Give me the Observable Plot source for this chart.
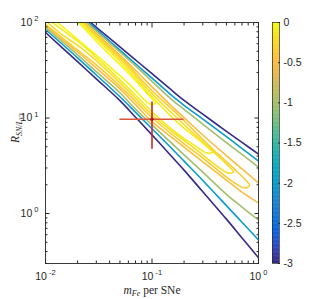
<!DOCTYPE html>
<html><head><meta charset="utf-8">
<script src="https://cdn.jsdelivr.net/npm/d3@7"></script>
<script src="https://cdn.jsdelivr.net/npm/@observablehq/plot@0.6"></script>
<style>
html,body{margin:0;padding:0;background:#fff;}
#wrap{position:relative;width:311px;height:299px;overflow:hidden;background:#fff;}
#wrap svg{position:absolute;top:0;}
</style></head><body><div id="wrap"></div>
<script>
// ---- data ----
const gridM = [0.01,0.02,0.03,0.05,0.07,0.1,0.15,0.2,0.3,0.5,0.7,1];
const loR3  = [78.6,38.9,25.7,15.2,10.2,6.66,4.06,2.85,1.69,0.874,0.556,0.344];
const loR2  = [84.5,42.7,28.2,16.7,11.5,7.73,4.92,3.54,2.22,1.21,0.811,0.530];
const loR1  = [88.7,45.8,30.6,18.4,12.4,8.47,5.55,4.12,2.71,1.59,1.17,0.857];
const loR05 = [93.0,49.1,33.3,20.2,13.8,9.15,6.38,4.96,3.47,2.24,1.68,1.29];

const upGridM = [0.03,0.05,0.07,0.1,0.15,0.2,0.3,0.5,0.7,1];
const upStartM = [0.0265,0.0253,0.0243,0.0232];
const upR3  = [100,89.1,55.5,40.6,29.1,19.9,15.3,10.96,7.25,5.55,4.19];
const upR2  = [100,84.7,51.4,37.0,26.2,17.6,13.6,9.76,6.38,4.79,3.54];
const upR1  = [100,81.1,49.1,35.1,24.2,15.9,12.3,8.62,5.54,4.16,3.06];
const upR05 = [100,76.9,45.5,31.6,21.2,13.6,10.1,6.64,4.03,2.93,2.09];

const e35M = [0.02274,0.0328,0.0564,0.0968,0.1852,0.3543,0.6083,0.7716,0.8232,0.7551,0.546,0.318,0.1852,0.1011,0.0564,0.0328,0.02131,0.01];
const e35R = [100,67.3,38.2,20.0,10.2,4.96,2.85,2.19,1.99,1.85,2.24,3.63,5.73,10.0,19.0,33.1,48.6,95.3];
const e20M = [0.02226,0.0328,0.0564,0.0968,0.1852,0.3543,0.5005,0.5823,0.5227,0.3948,0.2562,0.1662,0.1011,0.0564,0.0328,0.02131,0.01383,0.01044];
const e20R = [100,64.9,36.4,18.6,9.26,4.72,3.29,2.72,2.65,3.22,4.72,6.77,10.7,20.5,36.4,54.8,76.8,100];
const e10M = [0.02131,0.0328,0.0564,0.0968,0.1852,0.2854,0.3392,0.37,0.332,0.2562,0.1662,0.1011,0.0564,0.0328,0.02131,0.01383,0.01163];
const e10R = [100,61.8,33.9,17.3,8.41,5.73,4.84,4.40,4.29,5.08,7.11,11.5,22.0,39.2,60.4,86.6,100];
const e03M = [0.02041,0.0328,0.0564,0.08689,0.1011,0.1079,0.0968,0.06284,0.04077,0.02646,0.01717,0.01296];
const e03R = [100,57.5,31.6,19.0,15.7,14.3,13.9,22.0,33.9,51.0,76.8,100];

const crossM = [0.1], crossR = [9.7];
const crossMLo = [0.05], crossMHi = [0.2];
const crossRLo = [4.7], crossRHi = [14.7];

const xMajor = [0.01,0.1,1];
const yMajor = [1,10,100];
const cbTicks = [0,-0.5,-1,-1.5,-2,-2.5,-3];

// ---- parula colormap stops (index into 64-entry map) ----
const parulaIdx = [0,3,6,9,13,16,19,22,25,28,32,35,38,41,44,47,50,53,57,60,63];
const parulaHex = ["#352a87","#353dad","#2053d4","#0268e1","#1079da","#1485d4","#0c93d2","#06a0cd","#07a9c2","#15b1b4","#38b99e","#59bd8c","#7cbf7b","#9cbf6f","#b7bd64","#d1bb59","#e9b94e","#fdbe3d","#fad32a","#f5e41d","#f9fb0e"];
const colorScale = {type: "linear", domain: parulaIdx.map(i => -3 + 3 * i / 63), range: parulaHex, clamp: true};

// ---- build table ----
const withStart = (s, arr) => [s, ...arr];
const contours = [
  {level: -3,   m: gridM, r: loR3},
  {level: -3,   m: withStart(upStartM[0], upGridM), r: upR3},
  {level: -2,   m: gridM, r: loR2},
  {level: -2,   m: withStart(upStartM[1], upGridM), r: upR2},
  {level: -1,   m: gridM, r: loR1},
  {level: -1,   m: withStart(upStartM[2], upGridM), r: upR1},
  {level: -0.5, m: gridM, r: loR05},
  {level: -0.5, m: withStart(upStartM[3], upGridM), r: upR05},
  {level: -0.35, m: e35M, r: e35R},
  {level: -0.2,  m: e20M, r: e20R},
  {level: -0.1,  m: e10M, r: e10R},
  {level: -0.03, m: e03M, r: e03R}
];
const rows = contours.flatMap((c, id) => c.m.map((m, i) => ({id, level: c.level, m, r: c.r[i]})));
const cross = crossM.map((m, i) => ({m, r: crossR[i], mLo: crossMLo[i], mHi: crossMHi[i], rLo: crossRLo[i], rHi: crossRHi[i]}));

const minorX = [2,3,4,5,6,7,8,9].flatMap(k => [k * 0.01, k * 0.1]);
const minorY = [3,4,5,6,7,8,9].map(k => k * 0.1).concat([2,3,4,5,6,7,8,9].flatMap(k => [k, k * 10]));

const ink = "#262626";
const sans = "'Liberation Sans', Helvetica, Arial, sans-serif";
const serif = "'Liberation Serif', 'Times New Roman', serif";
const powFmt = d => "10^" + Math.round(Math.log10(d));

const main = Plot.plot({
  width: 262, height: 299,
  marginLeft: 45, marginRight: 4, marginTop: 22, marginBottom: 36,
  style: {fontFamily: sans, fontSize: "10.5px", color: ink, background: "white", overflow: "visible"},
  x: {type: "log", domain: [0.01, 1]},
  y: {type: "log", domain: [0.3, 100]},
  color: colorScale,
  marks: [
    Plot.line(rows, {x: "m", y: "r", z: "id", stroke: "level", strokeWidth: 1.6, curve: "catmull-rom", clip: true}),
    Plot.ruleY(cross, {y: "r", x1: "mLo", x2: "mHi", stroke: "#d9553b", strokeWidth: 1.6}),
    Plot.ruleX(cross, {x: "m", y1: "rLo", y2: "rHi", stroke: "#c52b2b", strokeWidth: 1.6}),
    Plot.dot(cross, {x: "m", y: "r", r: 1.8, fill: "#a81c1c"}),
    Plot.frame({stroke: ink, strokeWidth: 0.9}),
    Plot.axisX(xMajor, {anchor: "bottom", tickSize: -4.5, text: null, stroke: ink}),
    Plot.axisX(xMajor, {anchor: "top", tickSize: -4.5, text: null, stroke: ink}),
    Plot.axisX(minorX, {anchor: "bottom", tickSize: -2.5, text: null, stroke: ink}),
    Plot.axisX(minorX, {anchor: "top", tickSize: -2.5, text: null, stroke: ink}),
    Plot.axisY(yMajor, {anchor: "left", tickSize: -4.5, text: null, stroke: ink}),
    Plot.axisY(yMajor, {anchor: "right", tickSize: -4.5, text: null, stroke: ink}),
    Plot.axisY(minorY, {anchor: "left", tickSize: -2.5, text: null, stroke: ink}),
    Plot.axisY(minorY, {anchor: "right", tickSize: -2.5, text: null, stroke: ink}),
    Plot.axisX(xMajor, {anchor: "bottom", tickSize: 0, tickPadding: 9, tickFormat: powFmt, label: null}),
    Plot.axisY(yMajor, {anchor: "left", tickSize: 0, tickPadding: 7, tickFormat: powFmt, label: null}),
    Plot.text(["XLABEL"], {frameAnchor: "bottom", dy: 30, text: d => d, fontFamily: serif, fontSize: 11.5, fill: ink}),
    Plot.text(["YLABEL"], {frameAnchor: "left", dx: -30, rotate: -90, text: d => d, fontFamily: serif, fontSize: 11.5, fill: ink})
  ]
});

const cbStep = 0.01;
const cbCells = d3.range(-3, 0, cbStep);
const cb = Plot.plot({
  width: 49, height: 299,
  marginLeft: 10, marginRight: 32, marginTop: 22, marginBottom: 36,
  style: {fontFamily: sans, fontSize: "10.5px", color: ink, background: "transparent", overflow: "visible"},
  x: {domain: [0, 1], axis: null},
  y: {domain: [-3, 0], axis: null},
  color: colorScale,
  marks: [
    Plot.rect(cbCells, {x1: 0, x2: 1, y1: d => d, y2: d => Math.min(0, d + cbStep * 1.6), fill: d => d + cbStep / 2}),
    Plot.frame({stroke: ink, strokeWidth: 0.7}),
    Plot.axisY(cbTicks, {anchor: "right", tickSize: -2, text: null, stroke: ink}),
    Plot.axisY(cbTicks, {anchor: "right", tickSize: 0, tickPadding: 4, tickFormat: d => String(d), label: null})
  ]
});
cb.style.left = "262px";
main.style.left = "0px";

const wrap = document.getElementById("wrap");
wrap.appendChild(main);
wrap.appendChild(cb);

// ---- rich text (superscripts / subscripts) ----
const NS = "http://www.w3.org/2000/svg";
function rich(el, parts) {
  el.textContent = "";
  for (const p of parts) {
    const t = document.createElementNS(NS, "tspan");
    t.textContent = p.s;
    if (p.italic) t.setAttribute("font-style", "italic");
    if (p.size) t.setAttribute("font-size", p.size);
    if (p.dy) t.setAttribute("dy", p.dy);
    el.appendChild(t);
  }
}
main.querySelectorAll("text").forEach(el => {
  const s = el.textContent;
  const mm = /^10\^(-?\d+)$/.exec(s);
  if (mm) rich(el, [{s: "10"}, {s: " " + mm[1], size: 7.5, dy: -4.5}]);
  else if (s === "XLABEL") rich(el, [{s: "m", italic: true}, {s: "Fe", italic: true, size: 8, dy: 2.5}, {s: " per SNe", dy: -2.5}]);
  else if (s === "YLABEL") rich(el, [{s: "R", italic: true}, {s: "SN/L", italic: true, size: 8, dy: 2.5}, {s: "V3", italic: true, size: 6, dy: 1.5}]);
});
</script></body></html>
